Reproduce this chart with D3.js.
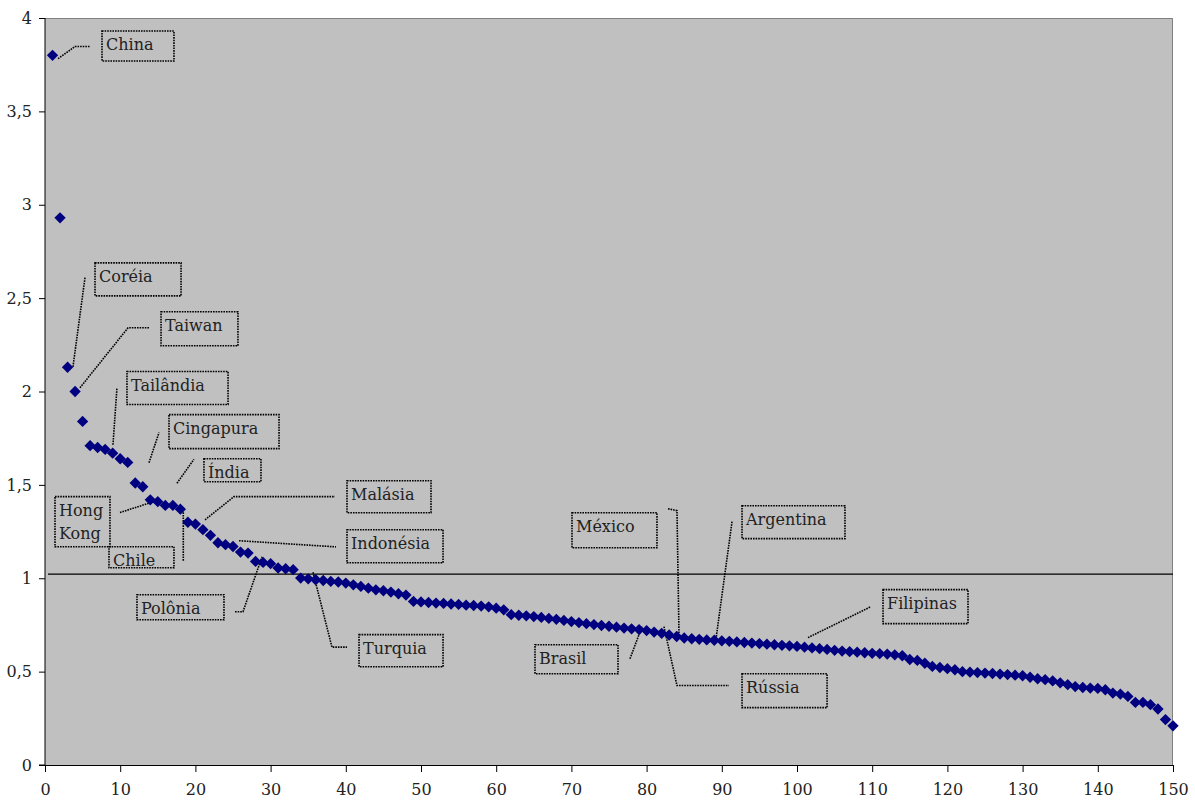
<!DOCTYPE html>
<html>
<head>
<meta charset="utf-8">
<script src="https://cdn.jsdelivr.net/npm/d3@7"></script>
<style>
  body { margin: 0; background: #fff; }
</style>
</head>
<body>
<div id="chart"></div>
<script>
// rank of each economy (1..150) and its value
const values = [
    3.80, 2.93, 2.13, 2.00, 1.84, 1.71, 1.70, 1.69, 1.67, 1.64,
    1.62, 1.51, 1.49, 1.42, 1.41, 1.39, 1.39, 1.37, 1.30, 1.29,
    1.26, 1.23, 1.19, 1.18, 1.17, 1.14, 1.135, 1.09, 1.085, 1.078,
    1.055, 1.051, 1.046, 1.001, 0.997, 0.992, 0.988, 0.983, 0.98, 0.974,
    0.965, 0.956, 0.947, 0.938, 0.933, 0.926, 0.917, 0.91, 0.876, 0.873,
    0.87, 0.867, 0.865, 0.862, 0.86, 0.856, 0.854, 0.851, 0.847, 0.84,
    0.831, 0.805, 0.802, 0.799, 0.795, 0.79, 0.785, 0.78, 0.774, 0.768,
    0.762, 0.757, 0.752, 0.747, 0.743, 0.738, 0.733, 0.729, 0.725, 0.72,
    0.712, 0.705, 0.696, 0.688, 0.68, 0.676, 0.673, 0.67, 0.668, 0.665,
    0.662, 0.659, 0.656, 0.653, 0.65, 0.647, 0.644, 0.641, 0.638, 0.635,
    0.631, 0.627, 0.623, 0.619, 0.614, 0.61, 0.607, 0.604, 0.601, 0.598,
    0.596, 0.594, 0.59, 0.585, 0.565, 0.56, 0.545, 0.528, 0.522, 0.516,
    0.51, 0.50, 0.497, 0.495, 0.492, 0.49, 0.487, 0.484, 0.481, 0.478,
    0.47, 0.462, 0.457, 0.45, 0.44, 0.43, 0.42, 0.415, 0.412, 0.41,
    0.403, 0.385, 0.38, 0.367, 0.335, 0.335, 0.323, 0.30, 0.243, 0.21
];
const ranks = values.map((_, i) => i + 1);
const referenceLevel = 1.022;

const xTicks = d3.range(0, 151, 10);
const yTicks = [0, 0.5, 1, 1.5, 2, 2.5, 3, 3.5, 4];

// labelled countries: box corners and leader path, in data units
const labelNames = ['China', 'Coréia', 'Taiwan', 'Tailândia', 'Cingapura', 'Índia', 'Malásia', 'Indonésia',
    'Hong\nKong', 'Chile', 'Polônia', 'Turquia', 'México', 'Argentina', 'Brasil', 'Rússia', 'Filipinas'];
const labelBoxes = [
    [7.58, 3.93, 17.15, 3.77], [6.65, 2.689, 18.09, 2.512], [15.43, 2.427, 25.66, 2.245],
    [10.90, 2.107, 24.34, 1.930], [16.49, 1.876, 31.12, 1.694], [21.14, 1.640, 28.72, 1.517],
    [40.16, 1.522, 51.33, 1.351], [40.16, 1.260, 52.93, 1.083], [1.33, 1.437, 8.64, 1.169],
    [8.51, 1.169, 17.15, 1.056], [12.23, 0.912, 23.80, 0.778], [41.76, 0.698, 52.93, 0.526],
    [70.08, 1.351, 81.38, 1.163], [92.69, 1.388, 106.38, 1.212], [65.16, 0.644, 76.20, 0.489],
    [92.69, 0.489, 104.0, 0.307], [111.44, 0.939, 122.74, 0.757]
];
const labelLeaders = [
    [[1.73, 3.782], [3.99, 3.847], [5.98, 3.847]],
    [[3.72, 2.132], [5.32, 2.610]],
    [[4.65, 2.020], [11.04, 2.341], [13.96, 2.341]],
    [[9.04, 1.715], [9.57, 2.020]],
    [[13.83, 1.619], [15.16, 1.780]],
    [[17.55, 1.509], [19.81, 1.637]],
    [[21.28, 1.313], [25.13, 1.437], [38.56, 1.437]],
    [[25.80, 1.201], [38.70, 1.168]],
    [[9.97, 1.352], [15.29, 1.421]],
    [[18.39, 1.367], [18.39, 1.089]],
    [[25.27, 0.821], [26.33, 0.821], [28.86, 1.115]],
    [[35.64, 1.032], [38.16, 0.631], [40.16, 0.631]],
    [[82.85, 1.372], [84.04, 1.362], [84.31, 0.698]],
    [[91.36, 1.303], [89.23, 0.676]],
    [[77.79, 0.569], [79.39, 0.741]],
    [[82.31, 0.741], [84.04, 0.4256], [90.96, 0.4256]],
    [[101.46, 0.682], [109.84, 0.848]]
];

const serif = '"DejaVu Serif"';
const width = 1195;
const height = 801;
const margin = { top: 18, right: 22, bottom: 36, left: 45 };
const innerW = width - margin.left - margin.right;
const innerH = height - margin.top - margin.bottom;

const svg = d3.select('#chart').append('svg')
    .attr('width', width)
    .attr('height', height)
    .attr('font-family', serif);

const g = svg.append('g').attr('transform', `translate(${margin.left},${margin.top})`);

const x = d3.scaleLinear().domain([0, 150]).range([0, innerW]);
const y = d3.scaleLinear().domain([0, 4]).range([innerH, 0]);

// plot area
g.append('rect')
    .attr('width', innerW)
    .attr('height', innerH)
    .attr('fill', '#c0c0c0');
g.append('path')
    .attr('d', `M0,0.5H${innerW - 0.5}V${innerH}`)
    .attr('fill', 'none')
    .attr('stroke', '#808080');

// axes
const yAxis = g.append('g')
    .call(d3.axisLeft(y).tickValues(yTicks).tickSize(6).tickPadding(7)
        .tickFormat(d => String(d).replace('.', ',')));
const xAxis = g.append('g')
    .attr('transform', `translate(0,${innerH})`)
    .call(d3.axisBottom(x).tickValues(xTicks).tickSize(7).tickPadding(12));
[xAxis, yAxis].forEach(ax => {
    ax.attr('font-family', serif).attr('font-size', 16);
    ax.selectAll('path,line').attr('stroke', '#000');
    ax.selectAll('text').attr('fill', '#222');
});
yAxis.select('.domain').attr('d', `M-6,${innerH}H0V0`);

// reference line
g.append('line')
    .attr('x1', x(0.4)).attr('x2', x(150))
    .attr('y1', y(referenceLevel)).attr('y2', y(referenceLevel))
    .attr('stroke', '#000')
    .attr('stroke-width', 1.2);

// leaders
const line = d3.line().x(d => x(d[0])).y(d => y(d[1]));
g.selectAll('.leader')
    .data(labelLeaders)
    .enter()
    .append('path')
    .attr('class', 'leader')
    .attr('d', line)
    .attr('fill', 'none')
    .attr('stroke', '#000')
    .attr('stroke-width', 1.6)
    .attr('stroke-dasharray', '1.6,1');

// points
const diamond = d3.symbol(d3.symbolSquare, 64);
g.selectAll('.pt')
    .data(ranks)
    .enter()
    .append('path')
    .attr('class', 'pt')
    .attr('d', diamond)
    .attr('transform', (r, i) => `translate(${x(r)},${y(values[i])}) rotate(45)`)
    .attr('fill', '#000080');

// label boxes
const labels = g.selectAll('.lbl')
    .data(labelNames)
    .enter()
    .append('g')
    .attr('class', 'lbl')
    .attr('transform', (d, i) => `translate(${x(labelBoxes[i][0])},${y(labelBoxes[i][1])})`);

labels.append('rect')
    .attr('width', (d, i) => x(labelBoxes[i][2]) - x(labelBoxes[i][0]))
    .attr('height', (d, i) => y(labelBoxes[i][3]) - y(labelBoxes[i][1]))
    .attr('fill', 'none')
    .attr('stroke', '#000')
    .attr('stroke-width', 1.6)
    .attr('stroke-dasharray', '1.6,1');

labels.each(function (d) {
    const lines = d.split('\n');
    const t = d3.select(this).append('text')
        .attr('font-family', serif)
        .attr('font-size', 16)
        .attr('fill', '#222');
    lines.forEach((s, k) => {
        t.append('tspan').attr('x', 4).attr('y', 19 + k * 23).text(s);
    });
});
</script>
</body>
</html>
